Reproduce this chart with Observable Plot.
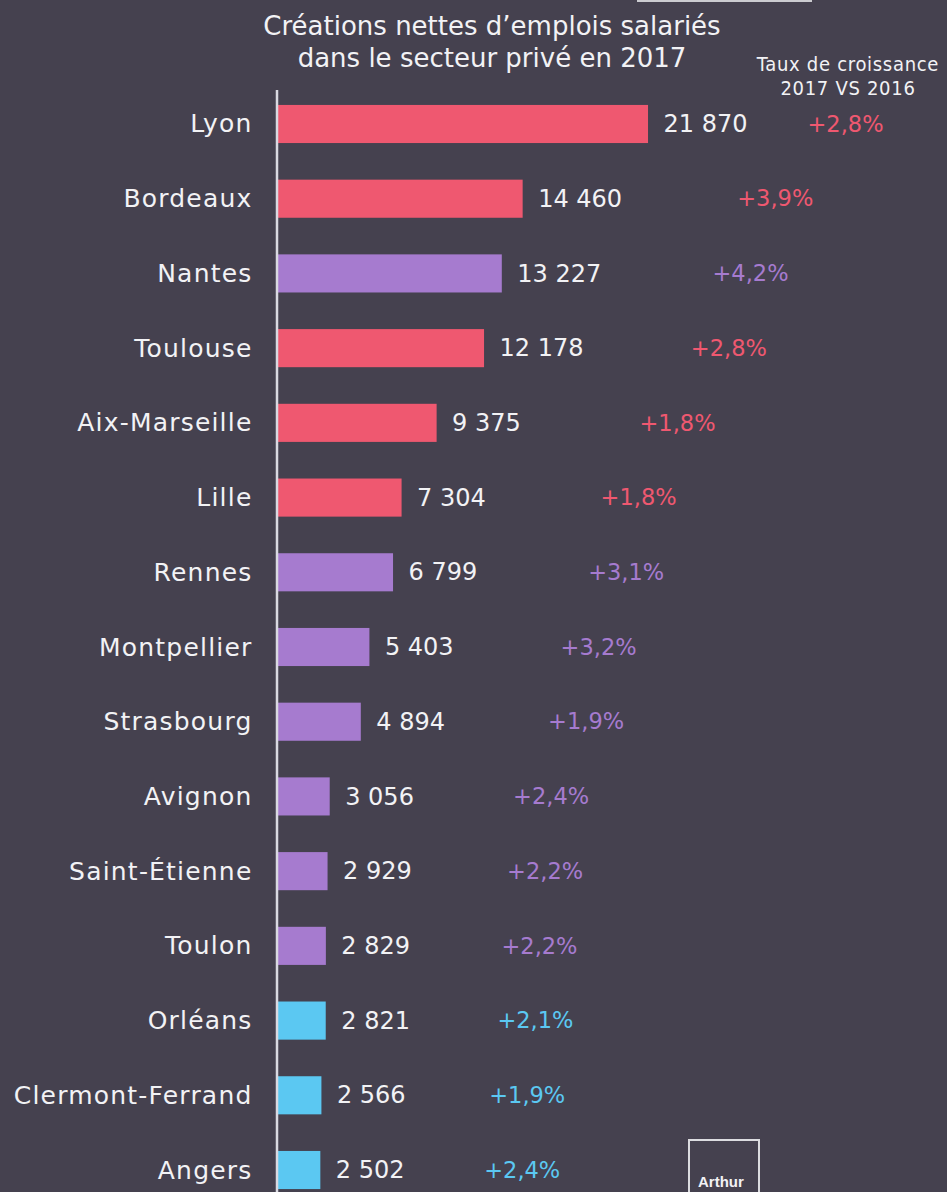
<!DOCTYPE html>
<html><head><meta charset="utf-8">
<script src="https://cdn.jsdelivr.net/npm/d3@7"></script>
<script src="https://cdn.jsdelivr.net/npm/@observablehq/plot@0.6"></script>
<style>
html,body{margin:0;padding:0;background:#45414f;overflow:hidden;width:947px;height:1192px}
#wrap{position:relative;width:947px;height:1192px;overflow:hidden}
#wrap svg{position:absolute;left:0;top:0}
.t{position:absolute;color:#f2f2f5;font-family:"DejaVu Sans",sans-serif;text-align:center;white-space:nowrap}
</style></head><body><div id="wrap"></div>
<script>
// Données
const villes = ["Lyon","Bordeaux","Nantes","Toulouse","Aix-Marseille","Lille","Rennes","Montpellier","Strasbourg","Avignon","Saint-Étienne","Toulon","Orléans","Clermont-Ferrand","Angers"];
const emplois = [21870,14460,13227,12178,9375,7304,6799,5403,4894,3056,2929,2829,2821,2566,2502];
const croissance = [2.8,3.9,4.2,2.8,1.8,1.8,3.1,3.2,1.9,2.4,2.2,2.2,2.1,1.9,2.4];
const groupes = ["groupe 1","groupe 1","groupe 2","groupe 1","groupe 1","groupe 1","groupe 2","groupe 2","groupe 2","groupe 2","groupe 2","groupe 2","groupe 3","groupe 3","groupe 3"];
const groupesOrdre = ["groupe 1","groupe 2","groupe 3"];
const couleurs = ["#ef5870","#a67bcf","#5bc8f2"];
const titre = ["Créations nettes d’emplois salariés","dans le secteur privé en 2017"];
const sousTitre = ["Taux de croissance","2017 VS 2016"];
const logo = "Arthur";

const data = villes.map((v,i)=>({ville:v, emplois:emplois[i], croissance:croissance[i], groupe:groupes[i]}));
const fr = d3.formatLocale({decimal:",", thousands:" ", grouping:[3], currency:["","€"]});
const fmtN = fr.format(",d");
const fmtP = d => "+" + fr.format(".1f")(d) + "%";

// layout
const W = 947, ML = 278, XMAX = 39540;
const pxPerUnit = (W - ML) / XMAX;
const colonneTaux = 845; // centre de la colonne « Taux de croissance »
const labelX = (d, i) => Math.min(d.emplois + (256 - 3.9 * i) / pxPerUnit, (colonneTaux - ML) / pxPerUnit);

const txt = "#f2f2f5";
const chart = Plot.plot({
  width: W,
  height: 1204,
  marginLeft: ML,
  marginRight: 0,
  marginTop: 90,
  marginBottom: 0,
  style: {background:"transparent", fontFamily:"DejaVu Sans, sans-serif", overflow:"visible"},
  x: {domain:[0, XMAX], axis:null},
  y: {domain: villes, paddingInner:0.49, paddingOuter:0.2, round:false, axis:null},
  color: {domain: groupesOrdre, range: couleurs},
  marks: [
    Plot.barX(data, {y:"ville", x:"emplois", fill:"groupe"}),
    Plot.ruleX([0], {stroke:"#d9d9e1", strokeWidth:2.5, dx:-1.5}),
    Plot.text(data, {y:"ville", x:0, text:"ville", textAnchor:"end", dx:-26, fill:txt, fontSize:25}),
    Plot.text(data, {y:"ville", x:"emplois", text:d=>fmtN(d.emplois), textAnchor:"start", dx:15, fill:txt, fontSize:24}),
    Plot.text(data, {y:"ville", x:labelX, text:d=>fmtP(d.croissance), textAnchor:"middle", fill:"groupe", fontSize:22.5})
  ]
});
// espacement des lettres des noms de villes
const villeSet = new Set(villes);
d3.select(chart).selectAll("text").filter(function(){ return villeSet.has(this.textContent); }).style("letter-spacing", "1.2px");

const wrap = document.getElementById("wrap");
wrap.appendChild(chart);

function addDiv(html, css){ const d=document.createElement("div"); d.className="t"; d.innerHTML=html; Object.assign(d.style, css); wrap.appendChild(d); return d; }
addDiv(titre.join("<br>"), {left:"192px", top:"10px", width:"600px", fontSize:"26px", lineHeight:"32px"});
addDiv(sousTitre.join("<br>"), {left:"748px", top:"52px", width:"200px", fontSize:"20px", lineHeight:"24px", letterSpacing:"0.7px", fontFamily:"'DejaVu Sans Condensed','Liberation Sans Narrow',sans-serif"});
addDiv("", {left:"637px", top:"0px", width:"175px", height:"2px", background:"#cbcbd0"});
addDiv(logo, {left:"688px", top:"1139px", width:"72px", height:"80px", border:"2px solid #dcdce0", boxSizing:"border-box", fontSize:"15px", fontWeight:"bold", paddingTop:"32px", textAlign:"left", paddingLeft:"8px", fontFamily:"'Liberation Sans',sans-serif"});
</script>
</body></html>
